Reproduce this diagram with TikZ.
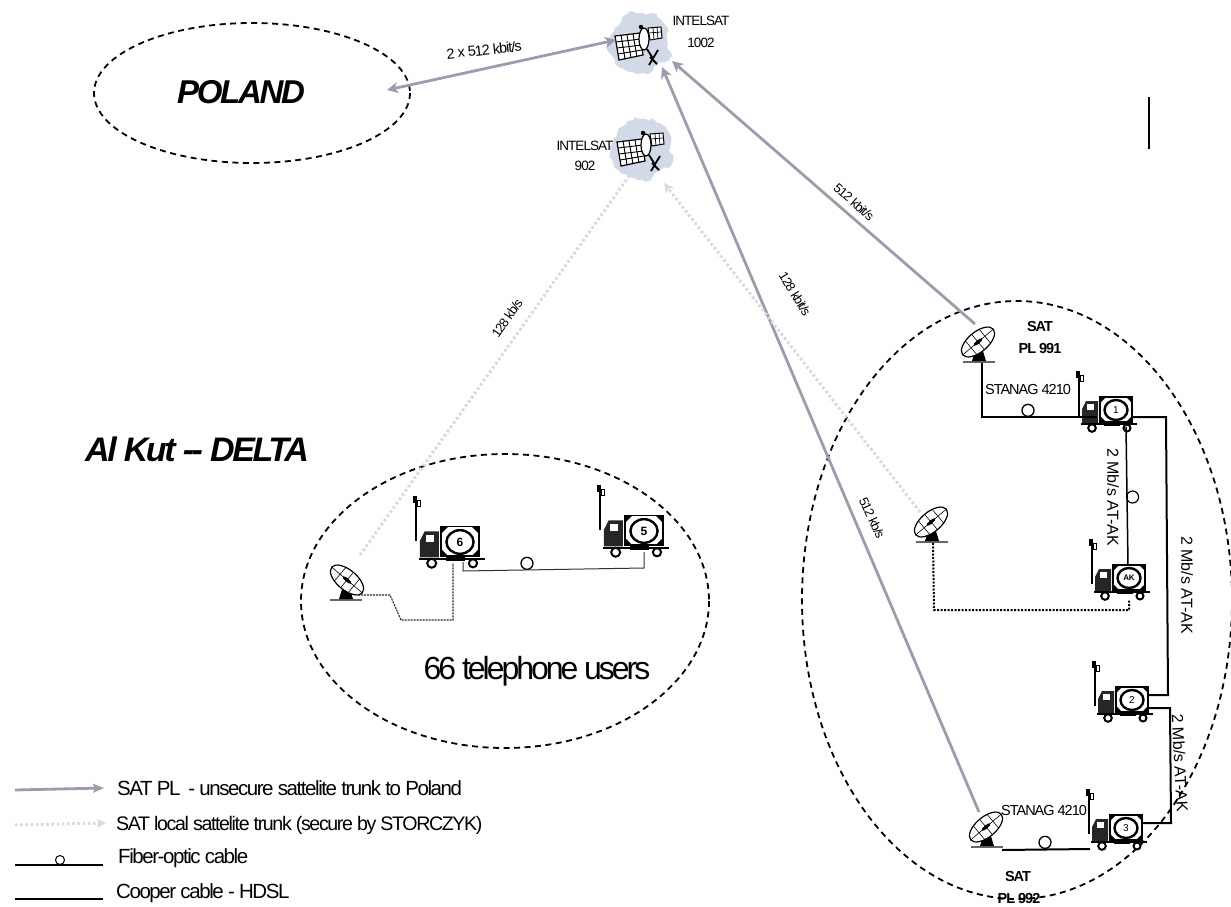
\documentclass[tikz,border=0pt]{standalone}
\usepackage{fontspec}
\setmainfont[LetterSpace=-4]{Liberation Sans}
\newfontfamily\tightf[LetterSpace=-7]{Liberation Sans}
\newfontfamily\vtightf[LetterSpace=-9.5]{Liberation Sans}
\newfontfamily\plainf{Liberation Sans}
\usetikzlibrary{arrows.meta,decorations.pathmorphing}
\definecolor{trunkc}{HTML}{9B9DAE}
\definecolor{localc}{HTML}{D9DAE0}
\definecolor{blobc}{HTML}{D2DAE8}
\newcommand{\fs}[1]{\fontsize{#1}{#1}\selectfont}
\tikzset{
  dashring/.style={draw=black,line width=1.8pt,dash pattern=on 6pt off 4.5pt},
  trunk/.style={draw=trunkc,line width=2.8pt},
  trunktip/.style={-{Stealth[length=11pt,width=11pt,inset=3pt]}},
  localtrunk/.style={draw=localc,line width=3pt,dash pattern=on 2.6pt off 2.6pt},
  cable/.style={draw=black,line width=1.5pt},
  thincable/.style={draw=black!80,line width=1pt},
  heavycable/.style={draw=black,line width=2pt},
  dotcable/.style={draw=black,line width=2pt,dash pattern=on 2pt off 1.5pt},
  dashcable/.style={draw=black!85,line width=1.1pt,dash pattern=on 2pt off 1pt},
  lab/.style={inner sep=0pt,font=\tightf\fs{13}},
  boldlab/.style={inner sep=0pt,font=\tightf\bfseries\fs{14.5}},
  mblab/.style={inner sep=0pt,font=\plainf\fs{16}},
  leg/.style={anchor=west,inner sep=0pt,font=\tightf\fs{20.5}},
  loopmark/.style={circle,draw=black,line width=1.3pt,inner sep=0pt,minimum size=12pt,anchor=south,fill=white},
  dishpic/.pic={
    \draw[draw=black!60,line width=2.6pt] (-16,0) -- (16,0);
    \fill[black] (-7,-1) -- (-3,-14) -- (3,-14) -- (7,-1) -- cycle;
    \begin{scope}[rotate around={40:(-1,-20)}]
      \draw[fill=white,line width=1.2pt] (-1,-20) ellipse (20 and 10);
      \draw[line width=.6pt] (-21,-20) -- (19,-20) (-1,-30) -- (-1,-10);
      \draw[line width=.6pt] (-10,-29) -- (-10,-11) (8,-29) -- (8,-11);
      \fill[black] (-1,-20) ellipse (5.5 and 1.8);
    \end{scope}
  },
  satpic/.pic={
    \fill[blobc,decorate,decoration={random steps,segment length=4pt,amplitude=2pt}] plot[smooth cycle,tension=.8] coordinates {(-26,-14)(-14,-30)(3,-32)(17,-28)(26,-18)(28,-2)(30,12)(18,20)(8,28)(-8,27)(-20,22)(-30,8)(-32,-4)};
    \draw[line width=1.2pt,fill=white] (-25,-9) -- (0,-12) -- (3,10) -- (-21,15) -- cycle;
    \draw[line width=.9pt] (-24,-3) -- (1,-6) (-23,3) -- (2,0) (-22,9) -- (2,5) (-19,-10) -- (-15,14) (-13,-10) -- (-9,13) (-7,-11) -- (-3,12);
    \draw[line width=1pt,fill=white] (8,-17) -- (21,-18) -- (22,-7) -- (10,-5) -- cycle;
    \draw[line width=.7pt] (9,-12) -- (21,-13) (13,-17) -- (14,-5) (17,-18) -- (18,-6);
    \draw[line width=1.2pt,fill=white] (4,-6) ellipse (5 and 11);
    \fill[black] (1,-18) circle (2.2);
    \draw[line width=1.8pt] (7,4) -- (12,12) (9,20) -- (18,5) (10,12) -- (17,19);
  },
  mastpic/.pic={
    \draw[line width=1.7pt] (0,44) -- (0,0);
    \fill[black] (-3,-1) rectangle (1,6);
    \draw[line width=1pt] (1,3) rectangle (4,9);
  },
  truckpic/.pic={
    \draw[line width=1.6pt,fill=white] (-16,-13) rectangle (16,12);
    \draw[line width=2.4pt,fill=white] (0,0) ellipse (11.5 and 10);
    \fill[black] (-16,-13) -- (-10,-13) -- (-16,-7) -- cycle (16,-13) -- (10,-13) -- (16,-7) -- cycle (-16,12) -- (-10,12) -- (-16,6) -- cycle (16,12) -- (10,12) -- (16,6) -- cycle;
    \draw[line width=2pt] (-35,14) -- (21,14);
    \fill[black!85] (-34,13) -- (-34,-1) -- (-30,-9) -- (-18,-9) -- (-18,13) -- cycle;
    \fill[white] (-29,-6) rectangle (-22,0);
    \fill[black] (-12,12) rectangle (4,16);
    \draw[line width=2pt,fill=white] (-24,18) circle (3.8);
    \draw[line width=2pt,fill=white] (11,18) circle (3.5);
    \pic at (-37,-38) {mastpic};
  }
}
\begin{document}
\begin{tikzpicture}[x=1pt,y=-1pt]
\useasboundingbox (0,0) rectangle (1231,907);

% rings
\coordinate (polc) at (252,93);
\coordinate (kutc) at (505,601);
\coordinate (delc) at (1017,600);
\draw[dashring] (polc) ellipse (158 and 70);
\draw[dashring] (kutc) ellipse (204 and 147);
\draw[dashring] (delc) ellipse (215 and 299);

% equipment
\coordinate (s1002) at (640,45);
\coordinate (s902) at (642,151);
\pic at (s1002) {satpic};
\pic at (s902) {satpic};
\coordinate (d991) at (979,362);
\coordinate (dloc) at (932,542);
\coordinate (d6) at (346,600);
\coordinate (d992) at (987,847);
\pic at (d991) {dishpic};
\pic at (dloc) {dishpic};
\pic[xscale=-1] at (d6) {dishpic};
\pic at (d992) {dishpic};
\coordinate (t1) at (1116,410);
\coordinate (tak) at (1129,578);
\coordinate (t2) at (1132,700);
\coordinate (t3) at (1126,828);
\coordinate (t6) at (460,542);
\coordinate (t5) at (644,531);
\pic at (t1) {truckpic};
\pic at (tak) {truckpic};
\pic at (t2) {truckpic};
\pic at (t3) {truckpic};
\pic[scale=1.18] at (t6) {truckpic};
\pic[scale=1.18] at (t5) {truckpic};
\node[inner sep=0pt,font=\fs{10}] (n1) at (t1) {1};
\node[inner sep=0pt,font=\fs{8}\bfseries] (nak) at (tak) {AK};
\node[inner sep=0pt,font=\fs{10}] (n2) at (t2) {2};
\node[inner sep=0pt,font=\fs{10}] (n3) at (t3) {3};
\node[inner sep=0pt,font=\fs{12}\bfseries] (n6) at (t6) {6};
\node[inner sep=0pt,font=\fs{12}\bfseries] (n5) at (t5) {5};

% trunks
\coordinate (polA) at (387,90);
\coordinate (satA) at (616,40);
\draw[trunk,{Stealth[length=11pt,width=11pt,inset=3pt]}-{Stealth[length=11pt,width=11pt,inset=3pt]}] (polA) -- (satA);
\coordinate (satB) at (672,61);
\coordinate (dA) at (975,324);
\draw[trunk,trunktip] (dA) -- (satB);
\coordinate (satC) at (662,67);
\coordinate (dB) at (979,812);
\draw[trunk,trunktip] (dB) -- (satC);
\coordinate (satD) at (632,172);
\coordinate (dC) at (360,555);
\draw[localtrunk] (dC) -- (satD);
\coordinate (satE) at (664,183);
\coordinate (dD) at (920,512);
\draw[localtrunk,-{Stealth[length=10pt,width=10pt,inset=3pt]}] (dD) -- (satE);

% cables
\coordinate (c1a) at (982,363);
\coordinate (c1b) at (1097,417);
\draw[cable] (c1a) |- (c1b);
\node[loopmark] (l1) at (1028,417) {};
\coordinate (c2a) at (1133,417);
\coordinate (c2b) at (1147,695);
\draw[heavycable] (c2a) -- (1166,417) -- (1168,695) -- (c2b);
\coordinate (c3a) at (1126,427);
\coordinate (c3b) at (1128,565);
\draw[cable] (c3a) -- (c3b);
\node[circle,draw=black,line width=1.2pt,inner sep=0pt,minimum size=12pt,anchor=west] (l3) at (1126,497) {};
\coordinate (c4a) at (933,543);
\coordinate (c4b) at (1129,600);
\draw[dotcable] (c4a) -- (934,610) -- (1129,610) -- (c4b);
\coordinate (c5a) at (1148,708);
\coordinate (c5b) at (1142,823);
\draw[heavycable] (c5a) -- (1170,708) -- (1171,823) -- (c5b);
\coordinate (c6a) at (1002,850);
\coordinate (c6b) at (1090,849);
\draw[heavycable] (c6a) -- (c6b);
\node[loopmark] (l6) at (1045,849) {};
\coordinate (c7a) at (358,595);
\coordinate (c7b) at (453,563);
\draw[dashcable] (c7a) -- (390,595) -- (401,620) -- (453,620) -- (c7b);
\coordinate (c8a) at (463,562);
\coordinate (c8b) at (644,552);
\draw[thincable] (c8a) -- (463,571) -- (644,568) -- (c8b);
\node[loopmark] (l8) at (527,570) {};

% stray mark
\coordinate (ma) at (1149,97);
\coordinate (mb) at (1149,149);
\draw[line width=1.3pt] (ma) -- (mb);

% labels
\node[font=\tightf\bfseries\itshape\fs{33}] (tpol) at (241,92) {POLAND};
\node[font=\tightf\bfseries\itshape\fs{34}] (tkut) at (197,449) {Al Kut -- DELTA};
\node[font=\vtightf\fs{32}] (tusers) at (537,671) {66 telephone users};
\node[lab,rotate=6,font=\tightf\fs{14.5}] (t2x) at (484,50) {2 x 512 kbit/s};
\node[lab,align=center,font=\tightf\fs{13.5}] (ti1002) at (701,32) {INTELSAT\\[8pt]1002};
\node[lab,align=center,font=\tightf\fs{13.5}] (ti902) at (585,156) {INTELSAT\\[6pt]902};
\node[lab,rotate=-41] (t512a) at (854,202) {512 kbit/s};
\node[lab,rotate=-58] (t128a) at (795,294) {128 kbit/s};
\node[lab,rotate=55] (t128b) at (507,318) {128 kb/s};
\node[lab,rotate=-65] (t512b) at (872,518) {512 kb/s};
\node[boldlab] (tsat1) at (1040,327) {SAT};
\node[boldlab] (tpl1) at (1040,349) {PL 991};
\node[lab,font=\tightf\fs{14.5}] (tst1) at (1028,390) {STANAG 4210};
\node[lab,font=\tightf\fs{14.5}] (tst2) at (1044,810) {STANAG 4210};
\node[boldlab] (tsat2) at (1018,876) {SAT};
\node[boldlab] (tpl2) at (1019,898) {PL 992};
\node[mblab,rotate=-90] (tm1) at (1113,497) {2 Mb/s AT-AK};
\node[mblab,rotate=-90] (tm2) at (1187,585) {2 Mb/s AT-AK};
\node[mblab,rotate=-87] (tm3) at (1180,763) {2 Mb/s AT-AK};

% legend
\coordinate (la) at (15,790);
\coordinate (lb) at (104,788);
\draw[trunk,-{Stealth[length=11pt,width=9pt,inset=2pt]}] (la) -- (lb);
\coordinate (lc) at (15,825);
\coordinate (ld) at (106,823);
\draw[localtrunk,-{Stealth[length=9pt,width=9pt,inset=2pt]}] (lc) -- (ld);
\coordinate (le) at (15,865);
\coordinate (lf) at (103,865);
\draw[line width=1.1pt] (le) -- (lf);
\node[loopmark,minimum size=9pt,line width=1pt] (lloop) at (60,865) {};
\coordinate (lg) at (15,899);
\coordinate (lh) at (103,899);
\draw[line width=1.4pt] (lg) -- (lh);
\node[leg] (lt1) at (117,788) {SAT PL\, - unsecure sattelite trunk to Poland};
\node[leg,font=\tightf\fs{19.6}] (lt2) at (116,825) {SAT local sattelite trunk (secure by STORCZYK)};
\node[leg] (lt3) at (118,858) {Fiber-optic cable};
\node[leg] (lt4) at (116,893) {Cooper cable - HDSL};
\end{tikzpicture}
\end{document}
